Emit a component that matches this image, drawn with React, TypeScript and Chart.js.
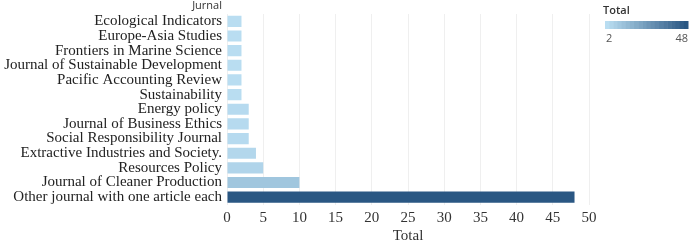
import React, { useEffect, useRef } from "react";
import { Chart, registerables } from "chart.js";

Chart.register(...registerables);

const categories = [
  "Ecological Indicators",
  "Europe-Asia Studies",
  "Frontiers in Marine Science",
  "Journal of Sustainable Development",
  "Pacific Accounting Review",
  "Sustainability",
  "Energy policy",
  "Journal of Business Ethics",
  "Social Responsibility Journal",
  "Extractive Industries and Society.",
  "Resources Policy",
  "Journal of Cleaner Production",
  "Other journal with one article each",
];
const totals = [2, 2, 2, 2, 2, 2, 3, 3, 3, 4, 5, 10, 48];
const xTicks = [0, 5, 10, 15, 20, 25, 30, 35, 40, 45, 50];
const legendMin = 2;
const legendMax = 48;

const LIGHT = [185, 221, 241];
const DARK = [42, 87, 131];

function colorFor(v: number): string {
  const t = Math.max(0, Math.min(1, (v - legendMin) / (legendMax - legendMin)));
  const c = LIGHT.map((l, i) => Math.round(l + (DARK[i] - l) * t));
  return `rgb(${c[0]},${c[1]},${c[2]})`;
}

const overlayPlugin = {
  id: "overlay",
  afterDraw(chart: any) {
    const ctx = chart.ctx;
    ctx.save();
    ctx.fillStyle = "#333";
    ctx.font = '11px "Open Sans"';
    ctx.textAlign = "right";
    ctx.textBaseline = "middle";
    ctx.fillText("Jurnal", 222, 6);

    ctx.textAlign = "left";
    ctx.font = '600 11px "Open Sans"';
    ctx.fillText("Total", 603, 11);

    const x0 = 605, x1 = 688, y0 = 21, h = 8;
    const steps = 20;
    const w = (x1 - x0) / steps;
    for (let i = 0; i < steps; i++) {
      const v = legendMin + ((legendMax - legendMin) * i) / (steps - 1);
      ctx.fillStyle = colorFor(v);
      ctx.fillRect(x0 + i * w, y0, w + 0.5, h);
    }
    ctx.fillStyle = "#555";
    ctx.font = '11px "Open Sans"';
    ctx.textAlign = "left";
    ctx.fillText(String(legendMin), 606, 38.5);
    ctx.textAlign = "right";
    ctx.fillText(String(legendMax), 688, 38.5);
    ctx.restore();
  },
};

export default function App() {
  const ref = useRef<HTMLCanvasElement>(null);
  useEffect(() => {
    if (!ref.current) return;
    const chart = new Chart(ref.current, {
      type: "bar",
      data: {
        labels: categories,
        datasets: [
          {
            data: totals,
            backgroundColor: totals.map(colorFor),
            barPercentage: 0.76,
            categoryPercentage: 1,
          },
        ],
      },
      options: {
        indexAxis: "y",
        animation: false,
        responsive: false,
        maintainAspectRatio: false,
        layout: { padding: { top: 13, right: 101, left: 0, bottom: 0 } },
        plugins: { legend: { display: false }, tooltip: { enabled: false } },
        scales: {
          x: {
            min: 0,
            max: 50,
            afterBuildTicks(scale: any) {
              scale.ticks = xTicks.map((v) => ({ value: v }));
            },
            afterFit(scale: any) {
              scale.height = 39.5;
            },
            grid: { color: "#efefef", drawTicks: false },
            border: { display: false },
            ticks: {
              padding: 5,
              color: "#333",
              font: { family: '"Liberation Serif"', size: 15 },
            },
            title: {
              display: true,
              text: "Total",
              color: "#333",
              font: { family: '"Liberation Serif"', size: 15, lineHeight: 1 },
              padding: { top: 0, bottom: 0 },
            },
          },
          y: {
            afterFit(scale: any) {
              scale.width = 227;
            },
            grid: { display: false, drawTicks: false },
            border: { display: false },
            ticks: {
              padding: 5,
              color: "#222",
              font: { family: '"Liberation Serif"', size: 15 },
              autoSkip: false,
            },
          },
        },
      },
      plugins: [overlayPlugin],
    });
    return () => chart.destroy();
  }, []);
  return (
    <div style={{ position: "absolute", left: 0, top: 0, width: 690, height: 244, background: "#fff" }}>
      <canvas ref={ref} width={690} height={244} style={{ width: 690, height: 244 }} />
    </div>
  );
}
